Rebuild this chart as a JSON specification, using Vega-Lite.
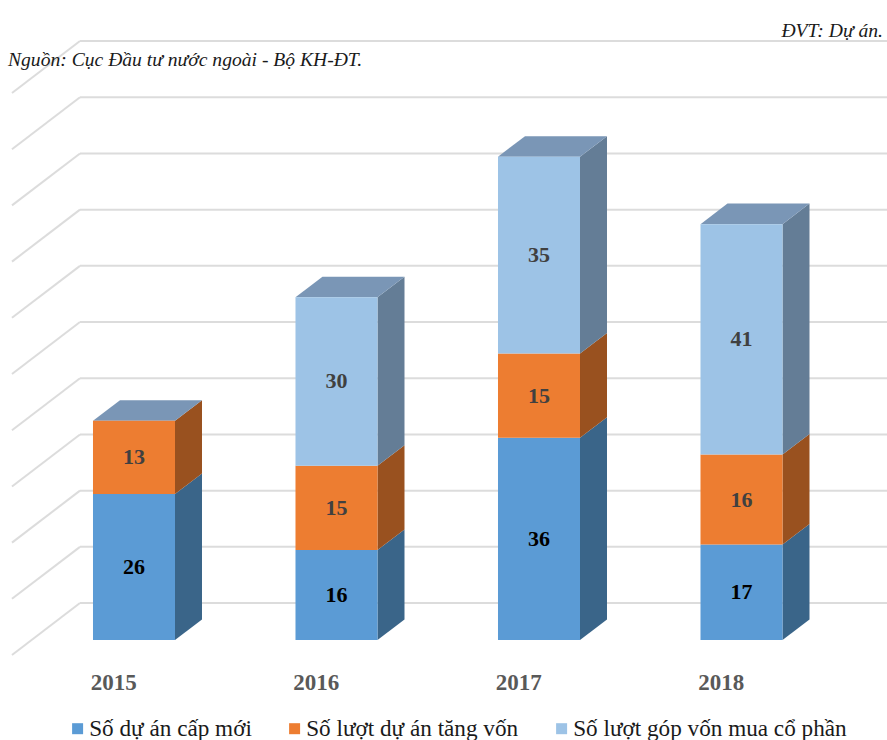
{
"$schema":"https://vega.github.io/schema/vega-lite/v6.json",
"width":887,"height":740,"padding":0,"autosize":{"type":"none"},
"background":"white",
"config":{"view":{"stroke":null},"axis":{"disable":true}},
"layer":[
{"data":{"name":"ticks","values":[{"tick":0},{"tick":10},{"tick":20},{"tick":30},{"tick":40},{"tick":50},{"tick":60},{"tick":70},{"tick":80},{"tick":90},{"tick":100}]},
 "transform":[{"calculate":"datum.tick+6.58","as":"back"},{"calculate":"datum.tick-2.67","as":"front"}],
 "mark":{"type":"rule","color":"#DCDCDC","strokeWidth":2},
 "encoding":{"x":{"datum":2014.7333,"type":"quantitative","scale":{"domain":[2014.3383,2018.7185],"nice":false,"zero":false}},"x2":{"datum":2018.7185},"y":{"field":"back","type":"quantitative","scale":{"domain":[-17.79,113.88],"nice":false,"zero":false}}}},
{"data":{"name":"ticks"},
 "transform":[{"calculate":"datum.tick+6.58","as":"back"},{"calculate":"datum.tick-2.67","as":"front"}],
 "mark":{"type":"rule","color":"#DCDCDC","strokeWidth":2},
 "encoding":{"x":{"datum":2014.7333,"type":"quantitative"},"x2":{"datum":2014.3975},"y":{"field":"back","type":"quantitative"},"y2":{"field":"front"}}},
{"data":{"values":[
 {"year":2015,"series":"Số dự án cấp mới","value":26},
 {"year":2015,"series":"Số lượt dự án tăng vốn","value":13},
 {"year":2016,"series":"Số dự án cấp mới","value":16},
 {"year":2016,"series":"Số lượt dự án tăng vốn","value":15},
 {"year":2016,"series":"Số lượt góp vốn mua cổ phần","value":30},
 {"year":2017,"series":"Số dự án cấp mới","value":36},
 {"year":2017,"series":"Số lượt dự án tăng vốn","value":15},
 {"year":2017,"series":"Số lượt góp vốn mua cổ phần","value":35},
 {"year":2018,"series":"Số dự án cấp mới","value":17},
 {"year":2018,"series":"Số lượt dự án tăng vốn","value":16},
 {"year":2018,"series":"Số lượt góp vốn mua cổ phần","value":41}
 ]},
 "transform":[{"stack":"value","groupby":["year"],"sort":[{"field":"series","order":"ascending"}],"as":["y0","y1"]}],
 "resolve":{"scale":{"color":"independent"}},
 "layer":[
 {"transform":[
   {"calculate":"[datum.year+0.2025,datum.year+0.3358]","as":"sx"},
   {"calculate":"[datum.y0,datum.y0+3.65]","as":"lo"},
   {"calculate":"[datum.y1,datum.y1+3.65]","as":"hi"},
   {"flatten":["sx","lo","hi"]}],
  "mark":{"type":"area","orient":"vertical"},
  "encoding":{"x":{"field":"sx","type":"quantitative"},"y":{"field":"lo","type":"quantitative","stack":null},"y2":{"field":"hi"},"detail":{"field":"year"},
   "color":{"field":"series","type":"nominal","legend":null,"scale":{"domain":["Số dự án cấp mới","Số lượt dự án tăng vốn","Số lượt góp vốn mua cổ phần"],"range":["#3A6589","#99511F","#647D96"]}}}},
 {"transform":[
   {"joinaggregate":[{"op":"max","field":"y1","as":"maxY"}],"groupby":["year"]},
   {"filter":"datum.y1===datum.maxY"},
   {"calculate":"[datum.year-0.2025,datum.year-0.0692,datum.year+0.2025,datum.year+0.3358]","as":"sx"},
   {"calculate":"[datum.y1,datum.y1,datum.y1,datum.y1+3.65]","as":"lo"},
   {"calculate":"[datum.y1,datum.y1+3.65,datum.y1+3.65,datum.y1+3.65]","as":"hi"},
   {"flatten":["sx","lo","hi"]}],
  "mark":{"type":"area","orient":"vertical","color":"#7A96B6"},
  "encoding":{"x":{"field":"sx","type":"quantitative"},"y":{"field":"lo","type":"quantitative","stack":null},"y2":{"field":"hi"},"detail":{"field":"year"}}},
 {"transform":[{"calculate":"datum.year-0.2025","as":"xa"},{"calculate":"datum.year+0.2025","as":"xb"}],
  "mark":{"type":"rect"},
  "encoding":{"x":{"field":"xa","type":"quantitative"},"x2":{"field":"xb"},"y":{"field":"y0","type":"quantitative"},"y2":{"field":"y1"},
   "color":{"field":"series","type":"nominal",
    "scale":{"domain":["Số dự án cấp mới","Số lượt dự án tăng vốn","Số lượt góp vốn mua cổ phần"],"range":["#5B9BD5","#ED7D31","#9DC3E6"]},
    "legend":{"orient":"none","legendX":66,"legendY":717,"direction":"horizontal","title":null,"padding":0,"symbolType":"square","symbolSize":121,"symbolStrokeWidth":0,"labelFont":"Liberation Serif","labelFontSize":23.2,"labelColor":"#1a1a1a","labelLimit":400,"labelOffset":0,"columnPadding":31}}}},
 {"transform":[{"calculate":"(datum.y0+datum.y1)/2","as":"mid"}],
  "mark":{"type":"text","font":"Liberation Serif","fontWeight":"bold","fontSize":22,"baseline":"middle","align":"center"},
  "encoding":{"x":{"field":"year","type":"quantitative"},"y":{"field":"mid","type":"quantitative"},"text":{"field":"value","type":"quantitative"},
   "color":{"condition":{"test":"datum.series==='Số dự án cấp mới'","value":"#000000"},"value":"#404040"}}}
 ]},
{"data":{"values":[{"year":2015},{"year":2016},{"year":2017},{"year":2018}]},
 "transform":[{"calculate":"datum.year-0.1","as":"lx"}],
 "mark":{"type":"text","font":"Liberation Serif","fontWeight":"bold","fontSize":23,"color":"#595959","align":"center","baseline":"middle"},
 "encoding":{"x":{"field":"lx","type":"quantitative"},"y":{"datum":-7.65,"type":"quantitative"},"text":{"field":"year","type":"nominal"}}},
{"data":{"values":[{"note":"Nguồn: Cục Đầu tư nước ngoài - Bộ KH-ĐT."}]},
 "mark":{"type":"text","font":"Liberation Serif","fontStyle":"italic","fontSize":19.6,"color":"#1a1a1a","align":"left","baseline":"middle"},
 "encoding":{"x":{"datum":2014.3778,"type":"quantitative"},"y":{"datum":103.2,"type":"quantitative"},"text":{"field":"note"}}},
{"data":{"values":[{"note":"ĐVT: Dự án."}]},
 "mark":{"type":"text","font":"Liberation Serif","fontStyle":"italic","fontSize":19.6,"color":"#1a1a1a","align":"right","baseline":"middle"},
 "encoding":{"x":{"datum":2018.6988,"type":"quantitative"},"y":{"datum":108.36,"type":"quantitative"},"text":{"field":"note"}}}
]
}
